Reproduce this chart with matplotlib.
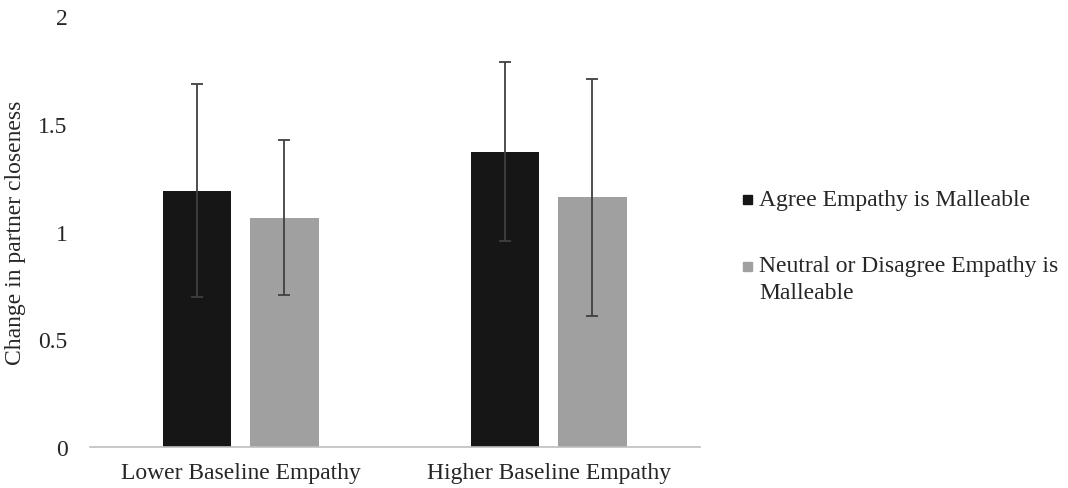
import matplotlib
matplotlib.use('Agg')
import matplotlib.pyplot as plt
import numpy as np
from matplotlib.patches import Rectangle

# data
groups = ["Lower Baseline Empathy", "Higher Baseline Empathy"]
series = ["Agree Empathy is Malleable", "Neutral or Disagree Empathy is\nMalleable"]
agree_means = [1.19, 1.37]
agree_err = [0.495, 0.415]
neutral_means = [1.065, 1.16]
neutral_err = [0.358, 0.55]
colors = ["#161616", "#a0a0a0"]
yticks = [0, 0.5, 1, 1.5, 2]
ytick_labels = ["0", "0.5", "1", "1.5", "2"]

plt.rcParams['font.family'] = ['Liberation Serif', 'DejaVu Serif']
txt_color = "#262626"
fs = 17

fig = plt.figure(figsize=(10.68, 4.89), dpi=100)
ax = fig.add_axes([0.084, 0.084, 0.571, 0.881])

x = np.arange(len(groups))
width = 0.223
offset = 0.142
err_kw = dict(ecolor="#404040", elinewidth=1.3, capsize=4, capthick=1.3)

ax.bar(x - offset, agree_means, width, yerr=agree_err, color=colors[0],
       error_kw=err_kw, zorder=2)
ax.bar(x + offset, neutral_means, width, yerr=neutral_err, color=colors[1],
       error_kw=err_kw, zorder=2)

ax.set_xlim(-0.49, 1.49)
ax.set_ylim(0, 2)
ax.set_xticks(x)
ax.set_xticklabels(groups, fontsize=fs, color=txt_color)
ax.set_yticks(yticks)
ax.set_yticklabels(ytick_labels, fontsize=fs, color=txt_color)
ax.tick_params(axis='x', length=0, pad=11)
ax.tick_params(axis='y', length=0, pad=16)
ax.set_ylabel("Change in partner closeness", fontsize=fs, color=txt_color, labelpad=9)

for side in ["top", "right", "left"]:
    ax.spines[side].set_visible(False)
ax.spines["bottom"].set_color("#bfbfbf")
ax.spines["bottom"].set_linewidth(1.2)

# legend, drawn by hand so the square sits on the first line
leg_y = [0.591, 0.454]
for lab, col, yy in zip(series, colors, leg_y):
    fig.patches.append(Rectangle((0.6955, yy - 0.0105), 0.0088, 0.019,
                                 transform=fig.transFigure, color=col))
    for i, ln in enumerate(lab.split("\n")):
        fig.text(0.711, yy - i * 0.054, ln, fontsize=fs, color=txt_color,
                 va="center", ha="left")

fig.savefig("out.png", dpi=100)
